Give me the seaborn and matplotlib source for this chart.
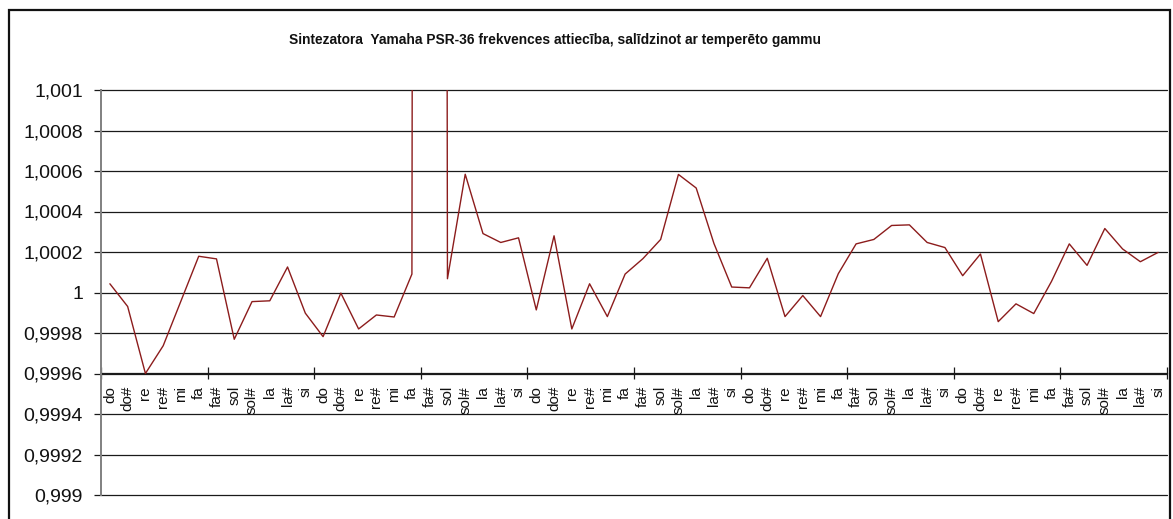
import numpy as np
import pandas as pd
import matplotlib
matplotlib.use("Agg")
import matplotlib.pyplot as plt
from matplotlib.ticker import FuncFormatter, FixedLocator
from matplotlib.patches import Rectangle
import seaborn as sns

# Note names of one octave, repeated over five octaves
octave = ["do", "do#", "re", "re#", "mi", "fa", "fa#", "sol", "sol#", "la", "la#", "si"]
notes = octave * 5

# Measured frequency ratio against equal temperament, per key
ratio_oct1 = [1.000043, 0.999931, 0.999600, 0.999737, 0.999958, 1.000179,
              1.000166, 0.999769, 0.999955, 0.999959, 1.000126, 0.999898]
ratio_oct2 = [0.999782, 0.999997, 0.999820, 0.999889, 0.999879, 1.000091,
              1.059460, 1.000068, 1.000584, 1.000291, 1.000247, 1.000270]
ratio_oct3 = [0.999914, 1.000280, 0.999820, 1.000043, 0.999881, 1.000091,
              1.000167, 1.000262, 1.000583, 1.000516, 1.000242, 1.000027]
ratio_oct4 = [1.000023, 1.000169, 0.999881, 0.999985, 0.999881, 1.000093,
              1.000240, 1.000262, 1.000331, 1.000334, 1.000247, 1.000222]
ratio_oct5 = [1.000083, 1.000190, 0.999856, 0.999944, 0.999896, 1.000055,
              1.000240, 1.000134, 1.000316, 1.000215, 1.000152, 1.000198]

ratios = ratio_oct1 + ratio_oct2 + ratio_oct3 + ratio_oct4 + ratio_oct5

y_ticks = [0.999, 0.9992, 0.9994, 0.9996, 0.9998, 1.0, 1.0002, 1.0004, 1.0006, 1.0008, 1.001]
axis_cross = 0.9996
title = "Sintezatora  Yamaha PSR-36 frekvences attiecība, salīdzinot ar temperēto gammu"

df = pd.DataFrame({"pos": np.arange(len(notes)), "note": notes, "ratio": ratios})

sns.set_style("white")
plt.rcParams["font.family"] = ["Liberation Sans", "DejaVu Sans"]

fig = plt.figure(figsize=(11.73, 5.19), dpi=100)
ax = fig.add_axes([101 / 1173, 1 - 495 / 519, 1066 / 1173, 405 / 519])

sns.lineplot(data=df, x="pos", y="ratio", ax=ax, color="#8c1c1c",
             linewidth=1.0, sort=False, estimator=None)

ax.set_xlim(-0.5, len(notes) - 0.5)
ax.set_ylim(y_ticks[0], y_ticks[-1])
ax.set_xlabel("")
ax.set_ylabel("")

# horizontal grid
ax.yaxis.set_major_locator(FixedLocator(y_ticks))
ax.grid(axis="y", color="#1a1a1a", linewidth=0.9)
ax.grid(axis="x", visible=False)
ax.yaxis.set_major_formatter(FuncFormatter(lambda v, _: f"{v:g}".replace(".", ",")))
ax.tick_params(axis="y", left=True, length=5, width=0.9, color="#1a1a1a",
               labelsize=14, pad=8, labelcolor="#111111")

for side in ["top", "right", "bottom"]:
    ax.spines[side].set_visible(False)
ax.spines["left"].set_color("#808080")
ax.spines["left"].set_linewidth(1.4)

ax.tick_params(axis="x", bottom=False, labelbottom=False)

# category axis crossing the value axis at 0.9996
frac = (axis_cross - y_ticks[0]) / (y_ticks[-1] - y_ticks[0])
cat = ax.secondary_xaxis(frac)
cat.spines["bottom"].set_color("#1a1a1a")
cat.spines["bottom"].set_linewidth(0.9)
boundaries = np.arange(-0.5, len(notes), 6)
cat.set_xticks(boundaries)
cat.set_xticklabels([""] * len(boundaries))
cat.set_xticks(np.arange(len(notes)), minor=True)
cat.set_xticklabels(notes, minor=True, rotation=90, fontsize=11, va="top")
cat.tick_params(axis="x", which="major", direction="inout", length=9, width=0.9, color="#1a1a1a")
cat.tick_params(axis="x", which="minor", length=0, pad=9, labelcolor="#111111")

fig.text(555 / 1173, 1 - 40 / 519, title, ha="center", va="center",
         fontsize=9.9, fontweight="bold", color="#111111")

# chart area border
fig.patches.append(Rectangle((9 / 1173, -0.05), 1161 / 1173, 1.05 - 10 / 519,
                             transform=fig.transFigure, fill=False,
                             edgecolor="#111111", linewidth=1.6))

# keep the edge gridlines fully visible
fig.canvas.draw()
for gl in ax.get_ygridlines():
    gl.set_clip_on(False)

fig.savefig("out.png", dpi=100)
